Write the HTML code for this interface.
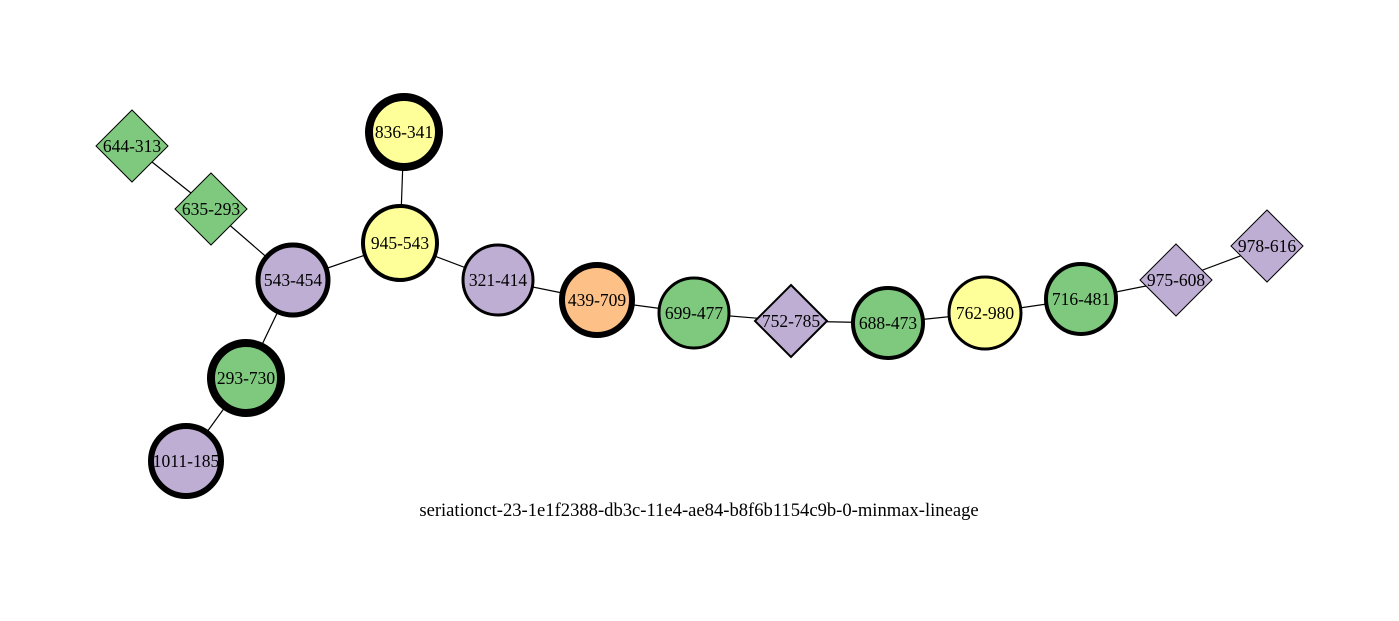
<!DOCTYPE html>
<html><head><style>html,body{margin:0;padding:0;background:#fff;}svg{display:block}</style></head>
<body>
<svg width="1399" height="621" viewBox="0 0 1399 621" xmlns="http://www.w3.org/2000/svg" font-family="Liberation Serif, serif" font-size="17.5">
<g stroke="#000" stroke-width="1.2">
<line x1="132" y1="146" x2="211" y2="209"/>
<line x1="211" y1="209" x2="293" y2="280"/>
<line x1="293" y1="280" x2="400" y2="243"/>
<line x1="400" y1="243" x2="404" y2="132"/>
<line x1="400" y1="243" x2="498" y2="280"/>
<line x1="498" y1="280" x2="597" y2="300"/>
<line x1="597" y1="300" x2="694" y2="313"/>
<line x1="694" y1="313" x2="791" y2="321"/>
<line x1="791" y1="321" x2="888" y2="323"/>
<line x1="888" y1="323" x2="985" y2="313"/>
<line x1="985" y1="313" x2="1081" y2="299"/>
<line x1="1081" y1="299" x2="1176" y2="280"/>
<line x1="1176" y1="280" x2="1267" y2="246"/>
<line x1="293" y1="280" x2="246" y2="378"/>
<line x1="246" y1="378" x2="186" y2="461"/>
</g>
<g stroke="#000">
<polygon points="132,110 168,146 132,182 96,146" fill="#7fc97f" stroke-width="1"/>
<polygon points="211,173 247,209 211,245 175,209" fill="#7fc97f" stroke-width="1"/>
<circle cx="293" cy="280" r="35" fill="#beaed4" stroke-width="5"/>
<circle cx="400" cy="243" r="37" fill="#ffff99" stroke-width="4"/>
<circle cx="404" cy="132" r="35" fill="#ffff99" stroke-width="8"/>
<circle cx="498" cy="280" r="35" fill="#beaed4" stroke-width="3"/>
<circle cx="597" cy="300" r="35" fill="#fdc086" stroke-width="6"/>
<circle cx="694" cy="313" r="35" fill="#7fc97f" stroke-width="3"/>
<polygon points="791,285 827,321 791,357 755,321" fill="#beaed4" stroke-width="2"/>
<circle cx="888" cy="323" r="35" fill="#7fc97f" stroke-width="4"/>
<circle cx="985" cy="313" r="36" fill="#ffff99" stroke-width="3"/>
<circle cx="1081" cy="299" r="35" fill="#7fc97f" stroke-width="4"/>
<polygon points="1176,244 1212,280 1176,316 1140,280" fill="#beaed4" stroke-width="1"/>
<polygon points="1267,210 1303,246 1267,282 1231,246" fill="#beaed4" stroke-width="1"/>
<circle cx="246" cy="378" r="35" fill="#7fc97f" stroke-width="8"/>
<circle cx="186" cy="461" r="35" fill="#beaed4" stroke-width="6"/>
</g>
<g text-anchor="middle" fill="#000">
<text x="132" y="152">644-313</text>
<text x="211" y="215">635-293</text>
<text x="293" y="286">543-454</text>
<text x="400" y="249">945-543</text>
<text x="404" y="138">836-341</text>
<text x="498" y="286">321-414</text>
<text x="597" y="306">439-709</text>
<text x="694" y="319">699-477</text>
<text x="791" y="327">752-785</text>
<text x="888" y="329">688-473</text>
<text x="985" y="319">762-980</text>
<text x="1081" y="305">716-481</text>
<text x="1176" y="286">975-608</text>
<text x="1267" y="252">978-616</text>
<text x="246" y="384">293-730</text>
<text x="186" y="467">1011-185</text>
<text x="699" y="516" font-size="18.6">seriationct-23-1e1f2388-db3c-11e4-ae84-b8f6b1154c9b-0-minmax-lineage</text>
</g>
</svg>
</body></html>
